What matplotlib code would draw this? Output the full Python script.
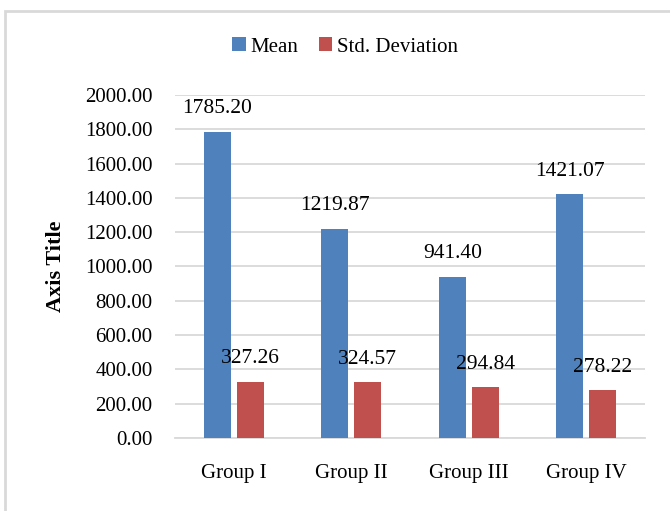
import numpy as np
import matplotlib.pyplot as plt
from matplotlib.patches import Rectangle

# Group statistics
groups = ['Group I', 'Group II', 'Group III', 'Group IV']
mean_vals = [1785.20, 1219.87, 941.40, 1421.07]
std_vals = [327.26, 324.57, 294.84, 278.22]

blue = '#4F81BD'
red = '#C0504D'
grid_col = '#D9D9D9'

plt.rcParams['font.family'] = ['Liberation Serif', 'DejaVu Serif']

fig = plt.figure(figsize=(6.7, 5.11), dpi=100)
ax = fig.add_axes([0.261, 0.143, 0.702, 0.671])

x = np.arange(len(groups))
w = 0.23
off = 0.14

b1 = ax.bar(x - off, mean_vals, w, color=blue, label='Mean', zorder=3)
b2 = ax.bar(x + off, std_vals, w, color=red, label='Std. Deviation', zorder=3)

for bars, vals in [(b1, mean_vals), (b2, std_vals)]:
    for rect, v in zip(bars, vals):
        ax.annotate('%.2f' % v, (rect.get_x() + rect.get_width() / 2, v),
                    xytext=(0, 16.5), textcoords='offset points',
                    ha='center', va='center', fontsize=15.5, zorder=4)

ax.set_xlim(-0.5, 3.5)
ax.set_ylim(0, 2000)
ax.set_yticks(np.arange(0, 2001, 200))
ax.set_yticklabels(['%.2f' % t for t in np.arange(0, 2001, 200)])
ax.set_xticks(x)
ax.set_xticklabels(groups)
ax.tick_params(axis='both', length=0, labelsize=15)
ax.tick_params(axis='x', pad=19)
ax.tick_params(axis='y', pad=16)

ax.grid(axis='y', color=grid_col, linewidth=1.3, zorder=0)
for s in ['top', 'right', 'left']:
    ax.spines[s].set_visible(False)
ax.spines['bottom'].set_color(grid_col)
ax.spines['bottom'].set_linewidth(1.3)

ax.set_ylabel('Axis Title', fontsize=16, fontweight='bold', labelpad=14)

fig.legend(loc='center', bbox_to_anchor=(0.515, 0.908), ncol=2, frameon=False,
           fontsize=15, handlelength=0.65, handleheight=0.65, handletextpad=0.2,
           columnspacing=1.0)

# outer chart frame
fig.patches.append(Rectangle((0.007, -0.05), 1.1, 1.028, transform=fig.transFigure,
                             fill=False, edgecolor=grid_col, linewidth=2))

fig.savefig('out.png', dpi=100)
